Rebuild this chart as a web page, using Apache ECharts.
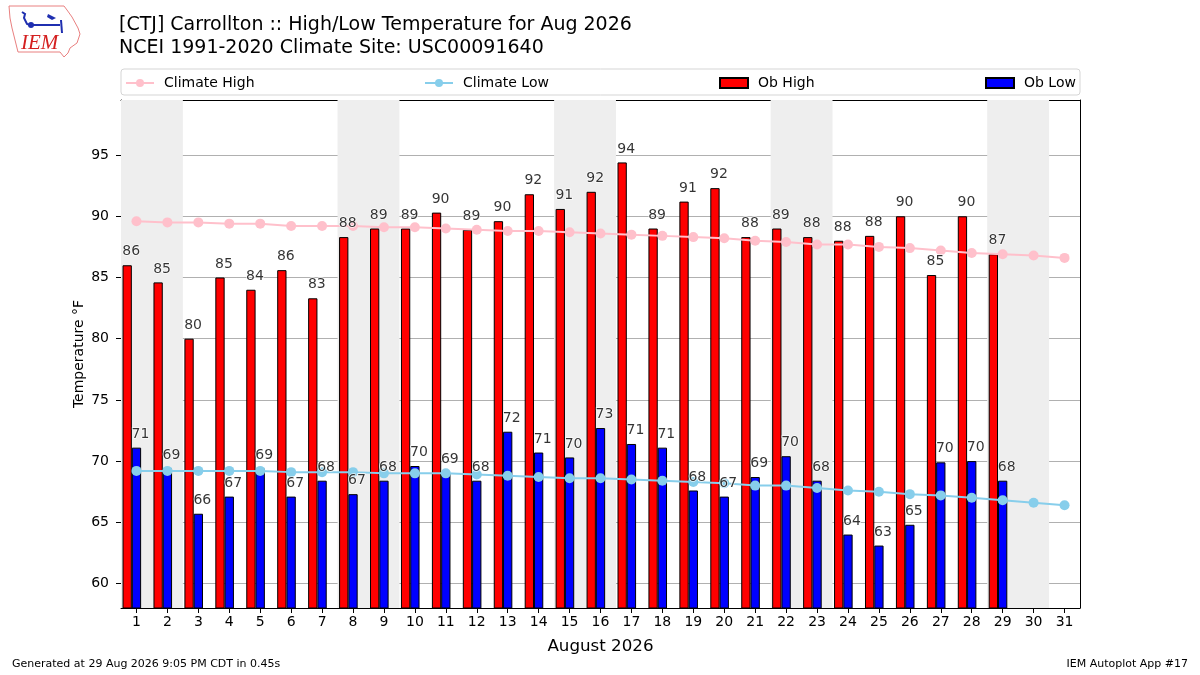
<!DOCTYPE html>
<html>
<head>
<meta charset="utf-8">
<title>Carrollton High/Low Temperature Aug 2026</title>
<script src="https://cdn.jsdelivr.net/npm/echarts@6/dist/echarts.min.js"></script>
<style>
  html, body { margin: 0; padding: 0; background: #fff; }
  #chart { width: 1200px; height: 675px; }
</style>
</head>
<body>
<div id="chart"></div>
<script>
// days of the month
var days = [1, 2, 3, 4, 5, 6, 7, 8, 9, 10, 11, 12, 13, 14, 15, 16,
  17, 18, 19, 20, 21, 22, 23, 24, 25, 26, 27, 28, 29, 30, 31];

// observed values (through the 29th)
var obHigh = [86.0, 84.6, 80.0, 85.0, 84.0, 85.6, 83.3, 88.3, 89.0, 89.0,
  90.3, 88.9, 89.6, 91.8, 90.6, 92.0, 94.4, 89.0, 91.2, 92.3,
  88.3, 89.0, 88.3, 88.0, 88.4, 90.0, 85.2, 90.0, 86.9];
var obLow = [71.1, 69.4, 65.7, 67.1, 69.4, 67.1, 68.4, 67.3, 68.4, 69.6,
  69.0, 68.4, 72.4, 70.7, 70.3, 72.7, 71.4, 71.1, 67.6, 67.1,
  68.7, 70.4, 68.4, 64.0, 63.1, 64.8, 69.9, 70.0, 68.4];

// NCEI 1991-2020 climatology
var climateHigh = [89.6, 89.5, 89.5, 89.4, 89.4, 89.2, 89.2, 89.2, 89.1, 89.1,
  89.0, 88.9, 88.8, 88.8, 88.7, 88.6, 88.5, 88.4, 88.3, 88.2,
  88.0, 87.9, 87.7, 87.7, 87.5, 87.4, 87.2, 87.0, 86.9, 86.8, 86.6];
var climateLow = [69.2, 69.2, 69.2, 69.2, 69.2, 69.1, 69.1, 69.1, 69.0, 69.0,
  69.0, 68.9, 68.8, 68.7, 68.6, 68.6, 68.5, 68.4, 68.3, 68.2,
  68.0, 68.0, 67.8, 67.6, 67.5, 67.3, 67.2, 67.0, 66.8, 66.6, 66.4];

// tick labels
var yTicks = [60, 65, 70, 75, 80, 85, 90, 95];
var xTicks = days;

// first day of each weekend (Sat)
var weekendStarts = [1, 8, 15, 22, 29];

var FONT = "DejaVu Sans";

function pairs(vals) {
  return vals.map(function(v, i) { return [days[i], v]; });
}

var myChart = echarts.init(document.getElementById("chart"), null, { renderer: "canvas" });

var weekendAreas = weekendStarts.map(function(d) {
  return [{ xAxis: d - 0.5 }, { xAxis: d + 1.5 }];
});

var labelStyle = {
  show: true,
  position: "top",
  distance: 6,
  offset: [4, 0],
  color: "#000",
  fontFamily: FONT,
  fontSize: 14,
  textBorderColor: "#fff",
  textBorderWidth: 1.5,
  formatter: function(p) { return Math.round(p.value[1]); },
};

function legendFor(name, left, icon) {
  var lg = {
    data: [name],
    left: left,
    top: 76,
    padding: 0,
    itemWidth: 28,
    itemHeight: 10,
    selectedMode: false,
    textStyle: { fontFamily: FONT, fontSize: 14, color: "#000", padding: [0, 0, 0, 5] },
  };
  if (icon) lg.icon = icon;
  return lg;
}

var option = {
  backgroundColor: "#fff",
  animation: false,
  textStyle: { fontFamily: FONT },
  title: {
    text: "[CTJ] Carrollton :: High/Low Temperature for Aug 2026\nNCEI 1991-2020 Climate Site: USC00091640",
    left: 119,
    top: 14,
    padding: 0,
    textStyle: { fontFamily: FONT, fontSize: 19, fontWeight: "normal", color: "#000", lineHeight: 23 },
  },
  legend: [
    legendFor("Climate High", 125),
    legendFor("Climate Low", 424),
    legendFor("Ob High", 719, "rect"),
    legendFor("Ob Low", 985, "rect"),
  ],
  grid: { left: 121, right: 120, top: 100, bottom: 67 },
  xAxis: [
    {
      type: "value",
      min: 0.5,
      max: 31.5,
      splitNumber: 31,
      name: "August 2026",
      nameLocation: "middle",
      nameGap: 30,
      nameTextStyle: { fontFamily: FONT, fontSize: 16.7, color: "#000" },
      axisLine: { show: true, lineStyle: { color: "#000", width: 1 } },
      axisTick: { show: true, length: 5, customValues: xTicks, lineStyle: { color: "#000" } },
      axisLabel: {
        fontFamily: FONT, fontSize: 14, color: "#000", margin: 7,
        customValues: xTicks,
      },
      splitLine: { show: false },
    },
    {
      // same scale shifted by 0.3 day: places the high bars left of the tick
      type: "value",
      min: 0.8,
      max: 31.8,
      position: "top",
      axisLine: { show: true, lineStyle: { color: "#000", width: 1 } },
      axisTick: { show: false },
      axisLabel: { show: false },
      splitLine: { show: false },
    },
  ],
  yAxis: [
    {
      type: "value",
      min: 58,
      max: 99.5,
      splitNumber: 8,
      axisLine: { show: true, lineStyle: { color: "#000", width: 1 } },
      axisTick: { show: true, length: 5, customValues: yTicks, lineStyle: { color: "#000" } },
      axisLabel: {
        fontFamily: FONT, fontSize: 14, color: "#000", margin: 12,
        customValues: yTicks,
      },
      splitLine: { show: true, lineStyle: { color: "#b0b0b0", width: 1 } },
    },
    {
      type: "value",
      min: 58,
      max: 99.5,
      position: "right",
      axisLine: { show: true, lineStyle: { color: "#000", width: 1 } },
      axisTick: { show: false },
      axisLabel: { show: false },
      splitLine: { show: false },
    },
  ],
  graphic: [
    // y axis title
    {
      type: "text",
      x: 79,
      y: 354,
      rotation: Math.PI / 2,
      style: {
        text: "Temperature °F",
        font: "14px 'DejaVu Sans'",
        fill: "#000",
        align: "center",
        verticalAlign: "middle",
      },
    },
    // legend frame
    {
      type: "rect",
      z: -10,
      shape: { x: 121, y: 69, width: 959, height: 26, r: 3 },
      style: { fill: "#fff", stroke: "#d5d5d5", lineWidth: 1 },
    },
    // IEM logo (rough)
    {
      type: "polygon",
      shape: {
        points: [[9, 6], [64, 6], [67, 10], [72, 17], [78, 28], [80, 34], [77, 43],
          [70, 48], [68, 53], [64, 57], [60, 52], [18, 52], [15, 40], [12, 28], [10, 18]],
      },
      style: { fill: "none", stroke: "#e98080", lineWidth: 1 },
    },
    {
      type: "polyline",
      shape: { points: [[22, 12], [25, 14], [24, 18], [27, 24], [30, 25], [60, 25]] },
      style: { stroke: "#1f2fb0", lineWidth: 2, fill: "none" },
    },
    {
      type: "polyline",
      shape: { points: [[61, 20], [62, 33]] },
      style: { stroke: "#1f2fb0", lineWidth: 2, fill: "none" },
    },
    {
      type: "polygon",
      shape: { points: [[48, 14], [56, 18], [52, 20], [47, 17]] },
      style: { fill: "#1f2fb0" },
    },
    {
      type: "circle",
      shape: { cx: 31, cy: 25, r: 3 },
      style: { fill: "#1f2fb0" },
    },
    {
      type: "text",
      left: 21,
      top: 33,
      style: {
        text: "IEM",
        font: "italic 21px 'Liberation Serif', serif",
        fill: "#d42020",
      },
    },
    // footer
    {
      type: "text",
      left: 12,
      top: 659,
      style: { text: "Generated at 29 Aug 2026 9:05 PM CDT in 0.45s", font: "11px 'DejaVu Sans'", fill: "#000" },
    },
    {
      type: "text",
      right: 12,
      top: 659,
      style: { text: "IEM Autoplot App #17", font: "11px 'DejaVu Sans'", fill: "#000" },
    },
  ],
  series: [
    {
      // weekend shading only
      name: "weekends",
      type: "line",
      z: -1,
      data: [],
      silent: true,
      markArea: {
        silent: true,
        itemStyle: { color: "#eeeeee" },
        data: weekendAreas,
      },
    },
    {
      name: "Ob High",
      type: "bar",
      xAxisIndex: 1,
      barWidth: 9.3,
      z: 2,
      itemStyle: { color: "#ff0000", borderColor: "#000", borderWidth: 1 },
      data: pairs(obHigh),
    },
    {
      name: "Ob Low",
      type: "bar",
      xAxisIndex: 0,
      barWidth: 9.3,
      z: 2,
      itemStyle: { color: "#0000ff", borderColor: "#000", borderWidth: 1 },
      data: pairs(obLow),
    },
    {
      name: "Climate High",
      type: "line",
      z: 3,
      symbol: "circle",
      symbolSize: 10,
      lineStyle: { color: "#ffc0cb", width: 2 },
      itemStyle: { color: "#ffc0cb" },
      data: pairs(climateHigh),
    },
    {
      name: "Climate Low",
      type: "line",
      z: 3,
      symbol: "circle",
      symbolSize: 10,
      lineStyle: { color: "#87ceeb", width: 2 },
      itemStyle: { color: "#87ceeb" },
      data: pairs(climateLow),
    },
    {
      // value labels above the high bars
      name: "highLabels",
      type: "scatter",
      xAxisIndex: 1,
      z: 5,
      silent: true,
      symbolSize: 1,
      itemStyle: { color: "rgba(0,0,0,0)" },
      label: labelStyle,
      data: pairs(obHigh),
    },
    {
      name: "lowLabels",
      type: "scatter",
      xAxisIndex: 0,
      z: 5,
      silent: true,
      symbolSize: 1,
      itemStyle: { color: "rgba(0,0,0,0)" },
      label: labelStyle,
      data: pairs(obLow),
    },
  ],
};

myChart.setOption(option);
window.addEventListener("resize", function() {
  myChart.resize();
});
</script>
</body>
</html>
